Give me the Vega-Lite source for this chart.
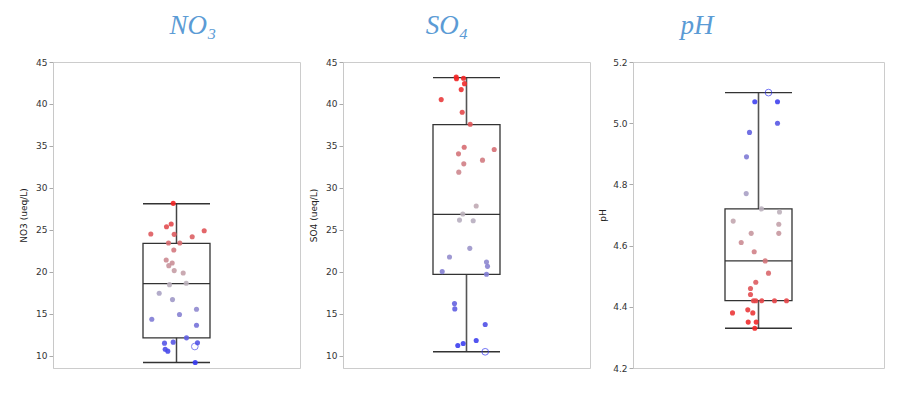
{
  "$schema": "https://vega.github.io/schema/vega-lite/v6.json",
  "background": "white",
  "padding": {"left": 19, "top": 11, "right": 5, "bottom": 5},
  "spacing": 43,
  "bounds": "flush",
  "config": {
    "view": {"stroke": "#cccccc", "strokeWidth": 1},
    "axis": {
      "domainColor": "#c8c8c8",
      "tickColor": "#aaaaaa",
      "labelColor": "#333333",
      "labelFont": "DejaVu Sans",
      "labelFontSize": 9,
      "titleFont": "DejaVu Sans",
      "titleFontSize": 9,
      "titleFontWeight": "normal",
      "titleColor": "#222222",
      "grid": false,
      "tickSize": 4,
      "labelPadding": 2,
      "titlePadding": 7
    },
    "title": {
      "font": "Liberation Serif",
      "fontStyle": "italic",
      "fontSize": 27,
      "fontWeight": "normal",
      "color": "#5b9bd5",
      "anchor": "middle",
      "baseline": "alphabetic",
      "offset": 18
    }
  },
  "resolve": {"scale": {"color": "independent"}, "legend": {"color": "independent"}},
  "datasets": {
    "summary": [
      {"panel": "NO3", "min": 9.21, "q1": 12.14, "median": 18.6, "q3": 23.4, "max": 28.12},
      {"panel": "SO4", "min": 10.48, "q1": 19.71, "median": 26.85, "q3": 37.55, "max": 43.14},
      {"panel": "pH", "min": 4.33, "q1": 4.42, "median": 4.55, "q3": 4.72, "max": 5.10}
    ],
    "no3": [
      {"v": 28.16, "j": -3.3, "open": false},
      {"v": 25.38, "j": -10, "open": false},
      {"v": 25.70, "j": -5.3, "open": false},
      {"v": 24.51, "j": -25.7, "open": false},
      {"v": 24.47, "j": -2.3, "open": false},
      {"v": 24.19, "j": 15.7, "open": false},
      {"v": 24.90, "j": 27.7, "open": false},
      {"v": 23.44, "j": -8, "open": false},
      {"v": 23.44, "j": 3.3, "open": false},
      {"v": 22.61, "j": -2.7, "open": false},
      {"v": 21.42, "j": -10.3, "open": false},
      {"v": 21.06, "j": -4.3, "open": false},
      {"v": 20.74, "j": -7.7, "open": false},
      {"v": 20.15, "j": -2.3, "open": false},
      {"v": 19.87, "j": 6.7, "open": false},
      {"v": 18.48, "j": -7, "open": false},
      {"v": 18.64, "j": 9.7, "open": false},
      {"v": 17.45, "j": -17.3, "open": false},
      {"v": 16.70, "j": -4, "open": false},
      {"v": 15.55, "j": 20, "open": false},
      {"v": 14.92, "j": 3, "open": false},
      {"v": 14.36, "j": -24.7, "open": false},
      {"v": 13.65, "j": 20, "open": false},
      {"v": 12.14, "j": 10, "open": false},
      {"v": 11.51, "j": -12, "open": false},
      {"v": 11.63, "j": -3.3, "open": false},
      {"v": 11.55, "j": 21, "open": false},
      {"v": 11.11, "j": 18.3, "open": true},
      {"v": 10.79, "j": -11.3, "open": false},
      {"v": 10.56, "j": -8.7, "open": false},
      {"v": 9.21, "j": 18.7, "open": false}
    ],
    "so4": [
      {"v": 43.22, "j": -10.3, "open": false},
      {"v": 43.00, "j": -10, "open": false},
      {"v": 43.06, "j": -3, "open": false},
      {"v": 42.42, "j": -2, "open": false},
      {"v": 41.71, "j": -5.3, "open": false},
      {"v": 40.52, "j": -25.3, "open": false},
      {"v": 39.01, "j": -4.3, "open": false},
      {"v": 37.59, "j": 3.7, "open": false},
      {"v": 34.85, "j": -2.3, "open": false},
      {"v": 34.58, "j": 27.7, "open": false},
      {"v": 34.06, "j": -8, "open": false},
      {"v": 33.31, "j": 16, "open": false},
      {"v": 32.87, "j": -2.7, "open": false},
      {"v": 31.88, "j": -7.7, "open": false},
      {"v": 27.84, "j": 9.7, "open": false},
      {"v": 26.89, "j": -3.7, "open": false},
      {"v": 26.17, "j": -7, "open": false},
      {"v": 26.09, "j": 6.7, "open": false},
      {"v": 22.80, "j": 3.3, "open": false},
      {"v": 21.77, "j": -17, "open": false},
      {"v": 21.18, "j": 20, "open": false},
      {"v": 20.66, "j": 21, "open": false},
      {"v": 20.03, "j": -24.3, "open": false},
      {"v": 19.71, "j": 20, "open": false},
      {"v": 16.22, "j": -12, "open": false},
      {"v": 15.59, "j": -11.7, "open": false},
      {"v": 13.73, "j": 18.7, "open": false},
      {"v": 11.83, "j": 9.7, "open": false},
      {"v": 11.47, "j": -3.3, "open": false},
      {"v": 11.23, "j": -8.7, "open": false},
      {"v": 10.48, "j": 18.7, "open": true}
    ],
    "ph": [
      {"v": 5.10, "j": 10, "open": true},
      {"v": 5.07, "j": -3.7, "open": false},
      {"v": 5.07, "j": 19, "open": false},
      {"v": 5.00, "j": 19, "open": false},
      {"v": 4.97, "j": -9, "open": false},
      {"v": 4.89, "j": -12, "open": false},
      {"v": 4.77, "j": -12.3, "open": false},
      {"v": 4.72, "j": 3, "open": false},
      {"v": 4.71, "j": 21, "open": false},
      {"v": 4.68, "j": -25.3, "open": false},
      {"v": 4.67, "j": 20.3, "open": false},
      {"v": 4.64, "j": -7.3, "open": false},
      {"v": 4.64, "j": 20.3, "open": false},
      {"v": 4.61, "j": -17.3, "open": false},
      {"v": 4.58, "j": -4.3, "open": false},
      {"v": 4.55, "j": 6.7, "open": false},
      {"v": 4.51, "j": 10, "open": false},
      {"v": 4.48, "j": -2.7, "open": false},
      {"v": 4.46, "j": -8, "open": false},
      {"v": 4.44, "j": -8, "open": false},
      {"v": 4.42, "j": -5, "open": false},
      {"v": 4.42, "j": -2.7, "open": false},
      {"v": 4.42, "j": 3.3, "open": false},
      {"v": 4.42, "j": 16, "open": false},
      {"v": 4.42, "j": 28, "open": false},
      {"v": 4.39, "j": -10.7, "open": false},
      {"v": 4.38, "j": -26, "open": false},
      {"v": 4.38, "j": -5.7, "open": false},
      {"v": 4.35, "j": -10.3, "open": false},
      {"v": 4.35, "j": -2.3, "open": false},
      {"v": 4.33, "j": -3.7, "open": false}
    ]
  },
  "hconcat": [
    {
      "width": 247,
      "height": 306,
      "title": {"text": "NO₃", "dx": 16.5},
      "layer": [
        {
          "data": {"name": "summary"},
          "transform": [{"filter": "datum.panel === 'NO3'"}],
          "mark": {"type": "rule", "color": "#444444", "strokeWidth": 1.5},
          "encoding": {
            "x": {"datum": 0, "type": "quantitative", "scale": {"domain": [-123.5, 123.5], "nice": false, "zero": false}, "axis": null},
            "y": {"field": "min", "type": "quantitative", "title": "NO3 (ueq/L)",
                  "scale": {"domain": [8.55, 45], "nice": false, "zero": false},
                  "axis": {"values": [10, 12.5, 15, 17.5, 20, 22.5, 25, 27.5, 30, 32.5, 35, 37.5, 40, 42.5, 45],
                           "labelExpr": "datum.value % 5 === 0 ? datum.label : ''",
                           "tickSize": {"condition": {"test": "datum.value % 5 === 0", "value": 4}, "value": 2.5}}},
            "y2": {"field": "max"}
          }
        },
        {
          "data": {"name": "summary"},
          "transform": [{"filter": "datum.panel === 'NO3'"}],
          "mark": {"type": "rect", "fill": "white", "stroke": "#333333", "strokeWidth": 1.3},
          "encoding": {
            "x": {"datum": -33.5, "type": "quantitative"},
            "x2": {"datum": 33.5},
            "y": {"field": "q1", "type": "quantitative", "title": "NO3 (ueq/L)"},
            "y2": {"field": "q3"}
          }
        },
        {
          "data": {"name": "summary"},
          "transform": [{"filter": "datum.panel === 'NO3'"}, {"fold": ["min", "median", "max"], "as": ["stat", "val"]}],
          "mark": {"type": "rule", "color": "#333333", "strokeWidth": 1.4},
          "encoding": {
            "x": {"datum": -33.5, "type": "quantitative"},
            "x2": {"datum": 33.5},
            "y": {"field": "val", "type": "quantitative", "title": "NO3 (ueq/L)"}
          }
        },
        {
          "data": {"name": "no3"},
          "transform": [{"filter": "!datum.open"}],
          "mark": {"type": "circle", "size": 26, "opacity": 0.9},
          "encoding": {
            "x": {"field": "j", "type": "quantitative"},
            "y": {"field": "v", "type": "quantitative", "title": "NO3 (ueq/L)"},
            "color": {"field": "v", "type": "quantitative", "legend": null,
                      "scale": {"domain": [9.21, 18.69, 28.16], "range": ["#3538f2", "#bdb3bd", "#f22424"], "interpolate": "rgb"}}
          }
        },
        {
          "data": {"name": "no3"},
          "transform": [{"filter": "datum.open"}],
          "mark": {"type": "point", "shape": "circle", "size": 45, "filled": false, "strokeWidth": 1},
          "encoding": {
            "x": {"field": "j", "type": "quantitative"},
            "y": {"field": "v", "type": "quantitative", "title": "NO3 (ueq/L)"},
            "color": {"field": "v", "type": "quantitative", "legend": null}
          }
        }
      ]
    },
    {
      "width": 247,
      "height": 306,
      "title": {"text": "SO₄", "dx": -19.5},
      "layer": [
        {
          "data": {"name": "summary"},
          "transform": [{"filter": "datum.panel === 'SO4'"}],
          "mark": {"type": "rule", "color": "#555555", "strokeWidth": 1.6},
          "encoding": {
            "x": {"datum": 0, "type": "quantitative", "scale": {"domain": [-123.5, 123.5], "nice": false, "zero": false}, "axis": null},
            "y": {"field": "min", "type": "quantitative", "title": "SO4 (ueq/L)",
                  "scale": {"domain": [8.55, 45], "nice": false, "zero": false},
                  "axis": {"values": [10, 12.5, 15, 17.5, 20, 22.5, 25, 27.5, 30, 32.5, 35, 37.5, 40, 42.5, 45],
                           "labelExpr": "datum.value % 5 === 0 ? datum.label : ''",
                           "tickSize": {"condition": {"test": "datum.value % 5 === 0", "value": 4}, "value": 2.5}}},
            "y2": {"field": "max"}
          }
        },
        {
          "data": {"name": "summary"},
          "transform": [{"filter": "datum.panel === 'SO4'"}],
          "mark": {"type": "rect", "fill": "white", "stroke": "#333333", "strokeWidth": 1.3},
          "encoding": {
            "x": {"datum": -33.5, "type": "quantitative"},
            "x2": {"datum": 33.5},
            "y": {"field": "q1", "type": "quantitative", "title": "SO4 (ueq/L)"},
            "y2": {"field": "q3"}
          }
        },
        {
          "data": {"name": "summary"},
          "transform": [{"filter": "datum.panel === 'SO4'"}, {"fold": ["min", "median", "max"], "as": ["stat", "val"]}],
          "mark": {"type": "rule", "color": "#333333", "strokeWidth": 1.4},
          "encoding": {
            "x": {"datum": -33.5, "type": "quantitative"},
            "x2": {"datum": 33.5},
            "y": {"field": "val", "type": "quantitative", "title": "SO4 (ueq/L)"}
          }
        },
        {
          "data": {"name": "so4"},
          "transform": [{"filter": "!datum.open"}],
          "mark": {"type": "circle", "size": 26, "opacity": 0.9},
          "encoding": {
            "x": {"field": "j", "type": "quantitative"},
            "y": {"field": "v", "type": "quantitative", "title": "SO4 (ueq/L)"},
            "color": {"field": "v", "type": "quantitative", "legend": null,
                      "scale": {"domain": [10.48, 26.85, 43.22], "range": ["#3538f2", "#bdb3bd", "#f22424"], "interpolate": "rgb"}}
          }
        },
        {
          "data": {"name": "so4"},
          "transform": [{"filter": "datum.open"}],
          "mark": {"type": "point", "shape": "circle", "size": 45, "filled": false, "strokeWidth": 1},
          "encoding": {
            "x": {"field": "j", "type": "quantitative"},
            "y": {"field": "v", "type": "quantitative", "title": "SO4 (ueq/L)"},
            "color": {"field": "v", "type": "quantitative", "legend": null}
          }
        }
      ]
    },
    {
      "width": 251,
      "height": 306,
      "title": {"text": "pH", "dx": -61.5},
      "layer": [
        {
          "data": {"name": "summary"},
          "transform": [{"filter": "datum.panel === 'pH'"}],
          "mark": {"type": "rule", "color": "#555555", "strokeWidth": 1.6},
          "encoding": {
            "x": {"datum": 0, "type": "quantitative", "scale": {"domain": [-125.5, 125.5], "nice": false, "zero": false}, "axis": null},
            "y": {"field": "min", "type": "quantitative", "title": "pH",
                  "scale": {"domain": [4.2, 5.2], "nice": false, "zero": false},
                  "axis": {"values": [4.2, 4.4, 4.6, 4.8, 5.0, 5.2], "format": ".1f", "titlePadding": 5}},
            "y2": {"field": "max"}
          }
        },
        {
          "data": {"name": "summary"},
          "transform": [{"filter": "datum.panel === 'pH'"}],
          "mark": {"type": "rect", "fill": "white", "stroke": "#333333", "strokeWidth": 1.3},
          "encoding": {
            "x": {"datum": -33.5, "type": "quantitative"},
            "x2": {"datum": 33.5},
            "y": {"field": "q1", "type": "quantitative", "title": "pH"},
            "y2": {"field": "q3"}
          }
        },
        {
          "data": {"name": "summary"},
          "transform": [{"filter": "datum.panel === 'pH'"}, {"fold": ["min", "median", "max"], "as": ["stat", "val"]}],
          "mark": {"type": "rule", "color": "#333333", "strokeWidth": 1.4},
          "encoding": {
            "x": {"datum": -33.5, "type": "quantitative"},
            "x2": {"datum": 33.5},
            "y": {"field": "val", "type": "quantitative", "title": "pH"}
          }
        },
        {
          "data": {"name": "ph"},
          "transform": [{"filter": "!datum.open"}],
          "mark": {"type": "circle", "size": 26, "opacity": 0.9},
          "encoding": {
            "x": {"field": "j", "type": "quantitative"},
            "y": {"field": "v", "type": "quantitative", "title": "pH"},
            "color": {"field": "v", "type": "quantitative", "legend": null,
                      "scale": {"domain": [4.33, 4.715, 5.10], "range": ["#f22424", "#bdb3bd", "#3538f2"], "interpolate": "rgb"}}
          }
        },
        {
          "data": {"name": "ph"},
          "transform": [{"filter": "datum.open"}],
          "mark": {"type": "point", "shape": "circle", "size": 45, "filled": false, "strokeWidth": 1},
          "encoding": {
            "x": {"field": "j", "type": "quantitative"},
            "y": {"field": "v", "type": "quantitative", "title": "pH"},
            "color": {"field": "v", "type": "quantitative", "legend": null}
          }
        }
      ]
    }
  ]
}
